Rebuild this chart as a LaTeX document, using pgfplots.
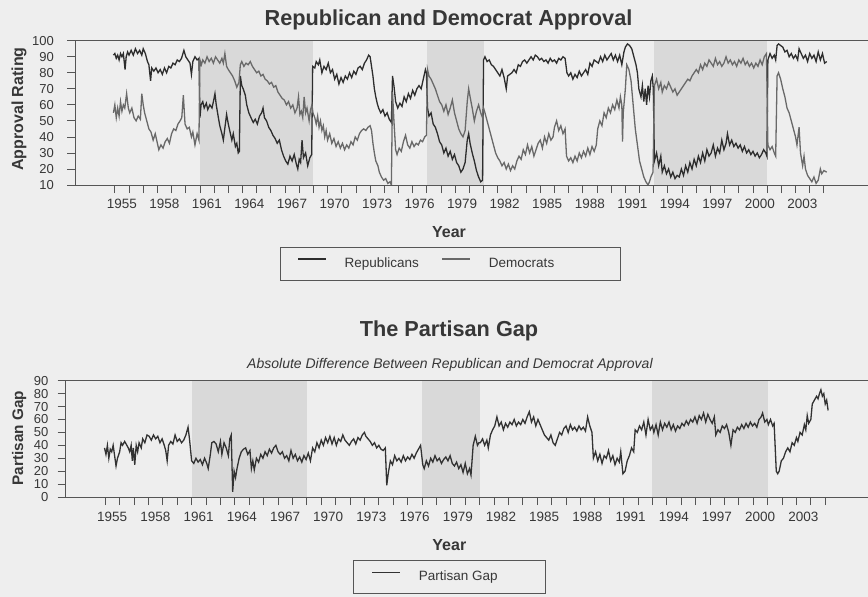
\documentclass[border=0pt]{standalone}
\usepackage{fontspec}
\setmainfont{Liberation Sans}
\usepackage{pgfplots}
\pgfplotsset{compat=1.18}
\definecolor{bg}{RGB}{238,238,238}
\definecolor{shade}{RGB}{217,217,217}
\definecolor{rcol}{RGB}{45,45,45}
\definecolor{dcol}{RGB}{105,105,105}
\definecolor{gcol}{RGB}{50,50,50}
\definecolor{axcol}{RGB}{85,85,85}
\definecolor{txt}{RGB}{55,55,55}
\pgfplotsset{
  every axis title shift=0pt,
  mystyle/.style={
    scale only axis,
    clip mode=individual,
    axis x line*=box, axis y line*=left,
    xtick pos=bottom, ytick pos=left,
    axis line style={axcol, line width=0.9pt},
    tick style={axcol, line width=0.8pt},
    tick align=outside,
    major tick length=8pt,
    axis on top,
    xtick={1955,...,2005},
    xticklabels={1955,,,1958,,,1961,,,1964,,,1967,,,1970,,,1973,,,1976,,,1979,,,1982,,,1985,,,1988,,,1991,,,1994,,,1997,,,2000,,,2003,,},
    xticklabel style={font=\fontsize{13.5}{14}\selectfont, text=txt, xshift=7pt, anchor=north, inner sep=0pt, yshift=-6pt},
    yticklabel style={font=\fontsize{13}{14}\selectfont, text=txt, anchor=east, inner sep=0pt},
    /pgf/number format/assume math mode=true,
    label style={font=\bfseries\fontsize{16}{18}\selectfont, text=txt},
    title style={font=\bfseries\fontsize{21.7}{24}\selectfont, text=txt, anchor=base},
    legend cell align=left,
    legend columns=2,
    legend image code/.code={\draw[##1] (0pt,4.5pt) -- (28pt,4.5pt);},
    legend style={draw=axcol, line width=0.8pt, fill=none, anchor=north west,
      inner xsep=17pt, inner ysep=10pt, font=\fontsize{13.5}{14}\selectfont, text=txt,
      nodes={inner sep=0pt, text depth=3pt, text height=10pt},
      /tikz/every odd column/.append style={column sep=18pt}},
  }
}
\begin{document}
\begin{tikzpicture}
\path[use as bounding box, fill=bg] (0,0) rectangle (868pt,-597pt);
% ---------------- top panel ----------------
\begin{axis}[mystyle,
  at={(75pt,-185pt)}, anchor=south west, width=793pt, height=144.3pt,
  xmin=1952.19, xmax=2008.11, ymin=10, ymax=100, ytick={10,20,...,100},
  yticklabel style={xshift=-13pt},
  title={Republican and Democrat Approval},
  title style={at={(axis description cs:0.471,1.1088)}},
  xlabel={Year}, xlabel style={at={(axis description cs:0.4716,-0.3638)}, anchor=base},
  ylabel={Approval Rating}, ylabel style={at={(axis description cs:-0.0653,0.5267)}, anchor=base},
  legend style={at={(axis description cs:0.2585,-0.4276)}},
]
\addplot[fill=shade, draw=none, forget plot] coordinates {(1961,10) (1969,10) (1969,100) (1961,100)} -- cycle;
\addplot[fill=shade, draw=none, forget plot] coordinates {(1977,10) (1981,10) (1981,100) (1977,100)} -- cycle;
\addplot[fill=shade, draw=none, forget plot] coordinates {(1993,10) (2001,10) (2001,100) (1993,100)} -- cycle;
% Republicans
\addplot[rcol, line width=1.3pt] coordinates {
(1954.9,91)(1955.0,92)(1955.1,89)(1955.2,91)(1955.3,88)(1955.4,92)(1955.5,90)(1955.6,92)(1955.72,82)(1955.8,90)(1955.9,93)(1956.0,91)(1956.15,94)(1956.3,91)(1956.45,95)(1956.6,92)(1956.75,94)(1956.9,91)(1957.0,95)(1957.15,92)(1957.3,87)(1957.4,85)(1957.52,75)(1957.6,83)(1957.75,81)(1957.9,83)(1958.05,80)(1958.2,82)(1958.35,79)(1958.5,83)(1958.65,80)(1958.8,84)(1958.95,83)(1959.1,86)(1959.25,85)(1959.4,88)(1959.55,87)(1959.7,89)(1959.87,94)(1960.0,90)(1960.15,88)(1960.3,86)(1960.4,79)(1960.5,87)(1960.65,90)(1960.8,88)(1960.93,89)
(1961.0,52)(1961.08,60)(1961.2,62)(1961.3,58)(1961.45,61)(1961.55,57)(1961.7,60)(1961.85,58)(1961.95,62)(1962.06,67)(1962.15,60)(1962.3,52)(1962.4,47)(1962.55,42)(1962.65,38)(1962.75,45)(1962.88,54)(1963.0,48)(1963.1,44)(1963.25,38)(1963.35,42)(1963.5,34)(1963.6,36)(1963.7,30)(1963.78,31)
(1963.85,78)(1963.95,72)(1964.05,70)(1964.2,66)(1964.3,60)(1964.45,55)(1964.6,52)(1964.76,49)(1964.9,51)(1965.05,48)(1965.2,53)(1965.35,55)(1965.45,58)(1965.55,52)(1965.7,50)(1965.85,46)(1966.0,44)(1966.15,41)(1966.3,39)(1966.45,36)(1966.6,38)(1966.75,32)(1966.9,28)(1967.05,25)(1967.2,23)(1967.35,28)(1967.5,25)(1967.65,29)(1967.8,23)(1967.9,20)(1968.0,26)(1968.1,24)(1968.2,38)(1968.3,27)(1968.45,30)(1968.6,22)(1968.75,27)(1968.88,29)
(1968.95,84)(1969.1,83)(1969.2,87)(1969.35,85)(1969.45,88)(1969.6,80)(1969.75,84)(1969.9,82)(1970.05,86)(1970.2,80)(1970.35,82)(1970.5,76)(1970.65,79)(1970.8,73)(1970.95,77)(1971.1,74)(1971.25,78)(1971.4,76)(1971.55,80)(1971.7,77)(1971.85,81)(1972.0,79)(1972.15,83)(1972.3,84)(1972.45,82)(1972.6,86)(1972.75,88)(1972.9,91)(1973.0,90)(1973.1,84)(1973.2,78)(1973.3,70)(1973.4,65)(1973.5,61)(1973.6,58)(1973.75,55)(1973.9,57)(1974.05,53)(1974.2,55)(1974.35,51)(1974.5,49)
(1974.58,78)(1974.68,72)(1974.8,62)(1974.95,58)(1975.1,61)(1975.25,59)(1975.4,65)(1975.55,62)(1975.7,67)(1975.85,64)(1976.0,69)(1976.15,66)(1976.3,70)(1976.45,72)(1976.6,70)(1976.75,76)(1976.9,82)(1976.97,80)
(1977.05,58)(1977.15,53)(1977.3,55)(1977.45,48)(1977.6,46)(1977.75,42)(1977.9,37)(1978.05,35)(1978.2,30)(1978.35,33)(1978.5,28)(1978.65,31)(1978.8,26)(1978.95,29)(1979.1,24)(1979.25,22)(1979.4,18)(1979.55,20)(1979.7,24)(1979.85,38)(1979.95,42)(1980.05,36)(1980.2,30)(1980.35,25)(1980.5,19)(1980.65,15)(1980.8,12)(1980.93,13)
(1981.0,88)(1981.1,90)(1981.25,87)(1981.4,88)(1981.55,85)(1981.7,84)(1981.85,82)(1982.0,80)(1982.15,78)(1982.3,82)(1982.45,77)(1982.6,70)(1982.7,78)(1982.85,79)(1983.0,80)(1983.15,82)(1983.3,80)(1983.45,85)(1983.6,84)(1983.75,87)(1983.9,88)(1984.05,86)(1984.2,88)(1984.35,90)(1984.5,88)(1984.65,91)(1984.8,90)(1984.95,88)(1985.1,89)(1985.25,87)(1985.4,88)(1985.55,86)(1985.7,89)(1985.85,87)(1986.0,88)(1986.15,86)(1986.3,89)(1986.45,88)(1986.6,90)(1986.75,89)(1986.88,80)(1987.0,78)(1987.15,80)(1987.3,76)(1987.45,79)(1987.6,77)(1987.75,81)(1987.9,78)(1988.05,80)(1988.2,82)(1988.35,79)(1988.5,86)(1988.65,84)(1988.8,88)(1988.95,87)
(1989.1,86)(1989.25,90)(1989.4,87)(1989.55,91)(1989.7,88)(1989.85,90)(1990.0,92)(1990.15,88)(1990.3,91)(1990.45,87)(1990.6,91)(1990.75,85)(1990.9,93)(1991.0,96)(1991.15,98)(1991.3,97)(1991.45,95)(1991.6,90)(1991.75,85)(1991.85,80)(1991.95,70)(1992.1,65)(1992.2,72)(1992.3,62)(1992.4,70)(1992.5,60)(1992.6,72)(1992.7,65)(1992.8,75)(1992.9,78)(1992.97,70)
(1993.05,25)(1993.2,30)(1993.35,22)(1993.5,28)(1993.6,18)(1993.75,22)(1993.9,17)(1994.05,20)(1994.2,15)(1994.35,18)(1994.5,14)(1994.65,16)(1994.8,15)(1994.95,20)(1995.1,16)(1995.25,22)(1995.4,18)(1995.55,24)(1995.7,20)(1995.85,26)(1996.0,22)(1996.15,28)(1996.3,24)(1996.45,30)(1996.6,25)(1996.75,32)(1996.9,28)(1997.05,30)(1997.2,35)(1997.35,28)(1997.5,33)(1997.65,30)(1997.8,38)(1997.95,32)(1998.1,36)(1998.2,42)(1998.35,35)(1998.5,38)(1998.65,34)(1998.8,36)(1998.95,33)(1999.1,35)(1999.25,31)(1999.4,34)(1999.55,30)(1999.7,32)(1999.85,29)(2000.0,31)(2000.15,28)(2000.3,30)(2000.45,27)(2000.6,29)(2000.75,32)(2000.9,30)(2000.98,28)
(2001.05,88)(2001.2,92)(2001.35,89)(2001.5,91)(2001.6,88)(2001.7,97)(2001.8,98)(2001.95,97)(2002.1,96)(2002.25,93)(2002.4,94)(2002.55,90)(2002.7,92)(2002.85,89)(2003.0,91)(2003.15,88)(2003.25,95)(2003.4,92)(2003.55,89)(2003.7,91)(2003.85,87)(2004.0,92)(2004.15,89)(2004.3,91)(2004.45,87)(2004.6,93)(2004.75,88)(2004.9,92)(2005.05,86)(2005.2,87)
};
\addlegendentry{\makebox[97pt][l]{Republicans}}
% Democrats
\addplot[dcol, line width=1.3pt] coordinates {
(1954.9,55)(1955.0,60)(1955.1,52)(1955.2,58)(1955.3,53)(1955.4,62)(1955.5,56)(1955.6,60)(1955.7,58)(1955.83,67)(1955.95,58)(1956.05,55)(1956.2,58)(1956.35,52)(1956.5,50)(1956.65,53)(1956.8,51)(1956.9,67)(1957.0,60)(1957.1,55)(1957.25,50)(1957.4,45)(1957.55,43)(1957.7,38)(1957.85,42)(1958.0,36)(1958.1,32)(1958.25,35)(1958.4,33)(1958.55,37)(1958.7,39)(1958.85,36)(1959.0,42)(1959.15,45)(1959.3,44)(1959.45,48)(1959.6,50)(1959.72,52)(1959.83,66)(1959.95,48)(1960.1,45)(1960.25,46)(1960.4,40)(1960.5,43)(1960.65,35)(1960.8,42)(1960.93,38)
(1961.0,88)(1961.1,85)(1961.2,88)(1961.35,86)(1961.5,90)(1961.65,87)(1961.8,89)(1961.95,86)(1962.1,90)(1962.25,88)(1962.4,86)(1962.55,89)(1962.65,86)(1962.76,92)(1962.88,84)(1963.0,82)(1963.15,80)(1963.3,78)(1963.45,75)(1963.6,71)(1963.75,74)
(1963.85,85)(1963.95,87)(1964.1,84)(1964.25,86)(1964.4,85)(1964.55,87)(1964.7,84)(1964.85,82)(1965.0,80)(1965.15,81)(1965.3,78)(1965.45,79)(1965.6,76)(1965.75,75)(1965.9,73)(1966.05,74)(1966.2,71)(1966.35,72)(1966.5,68)(1966.65,66)(1966.8,64)(1966.95,63)(1967.1,60)(1967.25,62)(1967.4,58)(1967.55,60)(1967.7,55)(1967.85,58)(1967.95,65)(1968.05,54)(1968.15,56)(1968.25,52)(1968.35,65)(1968.45,55)(1968.55,58)(1968.7,50)(1968.8,57)(1968.9,60)
(1968.97,55)(1969.1,52)(1969.2,48)(1969.3,53)(1969.4,46)(1969.5,50)(1969.6,44)(1969.7,47)(1969.8,40)(1969.9,44)(1970.0,38)(1970.15,42)(1970.3,36)(1970.45,39)(1970.6,34)(1970.75,37)(1970.9,33)(1971.05,36)(1971.2,32)(1971.35,35)(1971.5,33)(1971.65,37)(1971.8,35)(1971.95,40)(1972.1,38)(1972.25,42)(1972.4,44)(1972.55,45)(1972.7,44)(1972.85,46)(1973.0,47)(1973.1,44)(1973.2,36)(1973.3,30)(1973.4,25)(1973.55,22)(1973.65,18)(1973.8,15)(1973.95,13)(1974.1,14)(1974.25,11)(1974.4,12)(1974.5,10)
(1974.58,68)(1974.68,50)(1974.8,32)(1974.9,29)(1975.05,33)(1975.2,31)(1975.35,37)(1975.5,41)(1975.65,35)(1975.8,33)(1975.95,37)(1976.1,34)(1976.25,36)(1976.4,35)(1976.55,38)(1976.7,37)(1976.85,40)(1976.97,41)
(1977.05,82)(1977.15,78)(1977.3,76)(1977.45,73)(1977.6,70)(1977.75,66)(1977.9,62)(1978.05,60)(1978.2,56)(1978.35,60)(1978.5,54)(1978.65,58)(1978.8,63)(1978.95,55)(1979.1,50)(1979.25,45)(1979.4,42)(1979.55,40)(1979.7,44)(1979.85,62)(1979.95,70)(1980.05,65)(1980.2,58)(1980.35,50)(1980.5,56)(1980.65,60)(1980.8,55)(1980.93,52)
(1981.0,58)(1981.1,55)(1981.25,50)(1981.4,45)(1981.55,40)(1981.7,35)(1981.85,30)(1982.0,27)(1982.15,25)(1982.3,22)(1982.45,24)(1982.6,20)(1982.75,23)(1982.9,19)(1983.05,22)(1983.2,20)(1983.35,25)(1983.5,28)(1983.65,26)(1983.8,32)(1983.95,29)(1984.1,35)(1984.25,30)(1984.4,34)(1984.55,28)(1984.7,32)(1984.85,36)(1985.0,38)(1985.15,33)(1985.3,40)(1985.45,36)(1985.6,42)(1985.75,38)(1985.9,40)(1986.0,46)(1986.15,50)(1986.3,44)(1986.45,47)(1986.6,42)(1986.75,45)(1986.85,28)(1987.0,25)(1987.15,27)(1987.3,24)(1987.45,28)(1987.6,25)(1987.75,30)(1987.9,27)(1988.05,31)(1988.2,28)(1988.35,33)(1988.5,29)(1988.65,34)(1988.8,31)(1988.95,35)
(1989.05,45)(1989.2,50)(1989.35,47)(1989.5,55)(1989.65,52)(1989.8,58)(1989.95,55)(1990.1,60)(1990.25,57)(1990.4,63)(1990.55,58)(1990.65,65)(1990.75,60)(1990.8,37)(1990.85,55)(1991.0,70)(1991.1,85)(1991.25,82)(1991.4,75)(1991.55,60)(1991.7,45)(1991.85,35)(1992.0,25)(1992.15,20)(1992.3,15)(1992.45,12)(1992.6,10)(1992.7,12)(1992.8,15)(1992.95,18)
(1993.05,72)(1993.2,76)(1993.35,70)(1993.5,74)(1993.6,68)(1993.75,72)(1993.9,70)(1994.05,74)(1994.2,71)(1994.35,68)(1994.5,70)(1994.65,66)(1994.8,68)(1994.95,70)(1995.1,72)(1995.25,74)(1995.4,76)(1995.55,75)(1995.7,78)(1995.85,80)(1996.0,82)(1996.15,80)(1996.3,85)(1996.45,82)(1996.6,86)(1996.75,84)(1996.9,88)(1997.05,86)(1997.2,84)(1997.35,89)(1997.5,85)(1997.65,87)(1997.8,84)(1997.95,86)(1998.1,90)(1998.25,86)(1998.4,88)(1998.55,85)(1998.7,87)(1998.85,84)(1999.0,88)(1999.15,86)(1999.3,89)(1999.45,85)(1999.6,87)(1999.75,84)(1999.9,86)(2000.05,83)(2000.2,86)(2000.35,84)(2000.5,88)(2000.65,85)(2000.8,90)(2000.95,92)
(2001.05,35)(2001.2,32)(2001.35,34)(2001.5,30)(2001.6,28)(2001.7,78)(2001.8,80)(2001.95,76)(2002.1,70)(2002.25,65)(2002.4,58)(2002.55,55)(2002.7,50)(2002.85,45)(2003.0,40)(2003.1,35)(2003.25,46)(2003.35,30)(2003.5,22)(2003.6,28)(2003.7,20)(2003.85,16)(2004.0,14)(2004.15,12)(2004.3,15)(2004.45,11)(2004.6,13)(2004.75,20)(2004.85,17)(2005.0,19)(2005.2,18)
};
\addlegendentry{\makebox[114pt][l]{Democrats}}
\end{axis}
% ---------------- bottom panel ----------------
\begin{axis}[mystyle,
  at={(65.5pt,-497pt)}, anchor=south west, width=802.5pt, height=116.3pt,
  xmin=1952.24, xmax=2007.97, ymin=0, ymax=90, ytick={0,10,...,90},
  yticklabel style={xshift=-9pt},
  xticklabel style={yshift=-0.7pt},
  title={The Partisan Gap},
  title style={at={(axis description cs:0.4779,1.3783)}},
  xlabel={Year}, xlabel style={at={(axis description cs:0.4783,-0.4617)}, anchor=base},
  ylabel={Partisan Gap}, ylabel style={at={(axis description cs:-0.0527,0.5047)}, anchor=base, font=\bfseries\fontsize{15.3}{17}\selectfont},
  legend style={at={(axis description cs:0.3586,-0.5417)}, inner xsep=18pt},
]
\addplot[fill=shade, draw=none, forget plot] coordinates {(1961,0) (1969,0) (1969,90) (1961,90)} -- cycle;
\addplot[fill=shade, draw=none, forget plot] coordinates {(1977,0) (1981,0) (1981,90) (1977,90)} -- cycle;
\addplot[fill=shade, draw=none, forget plot] coordinates {(1993,0) (2001,0) (2001,90) (1993,90)} -- cycle;
\addplot[gcol, line width=1.3pt] coordinates {
(1954.95,38)(1955.05,33)(1955.15,40)(1955.25,30)(1955.35,37)(1955.45,35)(1955.55,40)(1955.65,32)(1955.75,24)(1955.85,30)(1956.0,35)(1956.1,42)(1956.2,40)(1956.35,43)(1956.5,40)(1956.6,38)(1956.7,35)(1956.8,40)(1956.88,28)(1956.95,38)(1957.05,25)(1957.15,40)(1957.25,35)(1957.35,42)(1957.5,38)(1957.6,45)(1957.75,42)(1957.9,48)(1958.05,47)(1958.2,44)(1958.35,48)(1958.5,45)(1958.65,47)(1958.8,42)(1958.95,45)(1959.1,40)(1959.2,36)(1959.3,28)(1959.4,40)(1959.55,43)(1959.7,41)(1959.85,48)(1960.0,43)(1960.15,45)(1960.3,42)(1960.45,44)(1960.6,48)(1960.75,54)(1960.85,45)
(1961.0,28)(1961.15,26)(1961.3,30)(1961.45,27)(1961.6,29)(1961.75,25)(1961.9,30)(1962.05,26)(1962.15,22)(1962.3,33)(1962.4,42)(1962.55,43)(1962.7,41)(1962.85,35)(1963.0,43)(1963.1,33)(1963.25,42)(1963.4,38)(1963.55,32)(1963.65,45)(1963.75,48)(1963.85,4)(1963.95,20)(1964.05,15)(1964.15,22)(1964.3,30)(1964.45,35)(1964.6,37)(1964.75,38)(1964.9,33)(1965.05,36)(1965.15,22)(1965.25,28)(1965.35,21)(1965.5,30)(1965.65,27)(1965.8,33)(1965.95,30)(1966.1,35)(1966.25,32)(1966.4,37)(1966.55,34)(1966.7,38)(1966.85,40)(1967.0,35)(1967.15,33)(1967.3,35)(1967.45,30)(1967.6,32)(1967.75,28)(1967.9,36)(1968.05,30)(1968.2,33)(1968.35,28)(1968.5,31)(1968.65,27)(1968.8,32)(1968.95,29)
(1969.1,34)(1969.25,28)(1969.4,38)(1969.55,35)(1969.7,42)(1969.85,38)(1970.0,44)(1970.15,40)(1970.3,46)(1970.45,42)(1970.6,47)(1970.75,41)(1970.9,46)(1971.05,40)(1971.2,45)(1971.35,43)(1971.5,48)(1971.65,44)(1971.8,42)(1971.95,40)(1972.1,43)(1972.25,45)(1972.4,41)(1972.55,46)(1972.7,44)(1972.85,48)(1973.0,50)(1973.1,47)(1973.25,45)(1973.4,43)(1973.55,40)(1973.7,42)(1973.85,38)(1974.0,40)(1974.15,37)(1974.3,36)(1974.45,38)(1974.55,9)(1974.65,18)(1974.8,28)(1974.95,25)(1975.1,32)(1975.25,28)(1975.4,30)(1975.55,27)(1975.7,32)(1975.85,28)(1976.0,31)(1976.15,29)(1976.3,33)(1976.45,30)(1976.6,34)(1976.75,37)(1976.9,40)
(1977.05,25)(1977.15,22)(1977.3,28)(1977.45,24)(1977.6,30)(1977.75,27)(1977.9,32)(1978.05,28)(1978.2,30)(1978.35,26)(1978.5,29)(1978.65,31)(1978.8,28)(1978.95,32)(1979.1,26)(1979.25,24)(1979.4,27)(1979.55,22)(1979.7,25)(1979.85,19)(1980.0,26)(1980.15,18)(1980.3,22)(1980.4,17)(1980.55,40)(1980.7,47)(1980.85,40)(1980.95,42)
(1981.05,42)(1981.2,45)(1981.35,40)(1981.5,44)(1981.6,38)(1981.75,48)(1981.9,52)(1982.05,55)(1982.2,62)(1982.35,55)(1982.5,58)(1982.65,52)(1982.8,57)(1982.95,54)(1983.1,58)(1983.25,56)(1983.4,60)(1983.55,55)(1983.7,58)(1983.85,56)(1984.0,60)(1984.15,57)(1984.3,62)(1984.45,66)(1984.6,58)(1984.75,62)(1984.9,55)(1985.05,60)(1985.2,56)(1985.35,52)(1985.5,48)(1985.65,46)(1985.8,44)(1985.95,48)(1986.1,42)(1986.25,40)(1986.4,45)(1986.55,50)(1986.7,48)(1986.85,53)(1987.0,55)(1987.15,50)(1987.3,56)(1987.45,52)(1987.6,54)(1987.75,51)(1987.9,55)(1988.05,52)(1988.2,54)(1988.35,51)(1988.5,62)(1988.65,55)(1988.8,50)(1988.9,30)
(1989.05,35)(1989.2,28)(1989.35,33)(1989.5,26)(1989.65,32)(1989.8,30)(1989.95,36)(1990.1,28)(1990.25,32)(1990.4,25)(1990.55,30)(1990.7,27)(1990.8,35)(1990.95,18)(1991.1,20)(1991.25,28)(1991.4,32)(1991.55,38)(1991.7,35)(1991.8,52)(1991.95,50)(1992.1,55)(1992.25,52)(1992.4,58)(1992.55,48)(1992.7,60)(1992.85,52)(1993.0,55)
(1993.1,50)(1993.25,56)(1993.4,48)(1993.55,58)(1993.7,52)(1993.85,57)(1994.0,54)(1994.15,58)(1994.3,52)(1994.45,56)(1994.6,51)(1994.75,55)(1994.9,53)(1995.05,57)(1995.2,55)(1995.35,59)(1995.5,56)(1995.65,60)(1995.8,58)(1995.95,62)(1996.1,57)(1996.25,63)(1996.4,60)(1996.55,65)(1996.7,58)(1996.85,64)(1997.0,60)(1997.15,57)(1997.3,62)(1997.4,48)(1997.55,52)(1997.7,50)(1997.85,55)(1998.0,53)(1998.15,56)(1998.3,50)(1998.45,40)(1998.6,52)(1998.75,50)(1998.9,54)(1999.05,52)(1999.2,56)(1999.35,53)(1999.5,57)(1999.65,54)(1999.8,58)(1999.95,55)(2000.1,57)(2000.25,54)(2000.4,60)(2000.55,62)(2000.65,65)(2000.8,58)(2000.95,60)
(2001.05,56)(2001.2,60)(2001.35,55)(2001.45,57)(2001.6,20)(2001.7,18)(2001.8,20)(2001.95,28)(2002.1,30)(2002.25,35)(2002.4,38)(2002.55,35)(2002.7,42)(2002.85,40)(2003.0,46)(2003.1,43)(2003.25,50)(2003.4,48)(2003.55,56)(2003.65,52)(2003.75,63)(2003.85,57)(2004.0,60)(2004.1,72)(2004.25,75)(2004.4,78)(2004.5,76)(2004.6,80)(2004.7,83)(2004.8,78)(2004.9,80)(2005.0,72)(2005.1,75)(2005.2,67)
};
\addlegendentry{\makebox[108pt][l]{Partisan Gap}}
\node[anchor=base, font=\itshape\fontsize{14}{16}\selectfont, text=txt] at (axis description cs:0.4791,1.1066) {Absolute Difference Between Republican and Democrat Approval};
\end{axis}
\end{tikzpicture}
\end{document}
